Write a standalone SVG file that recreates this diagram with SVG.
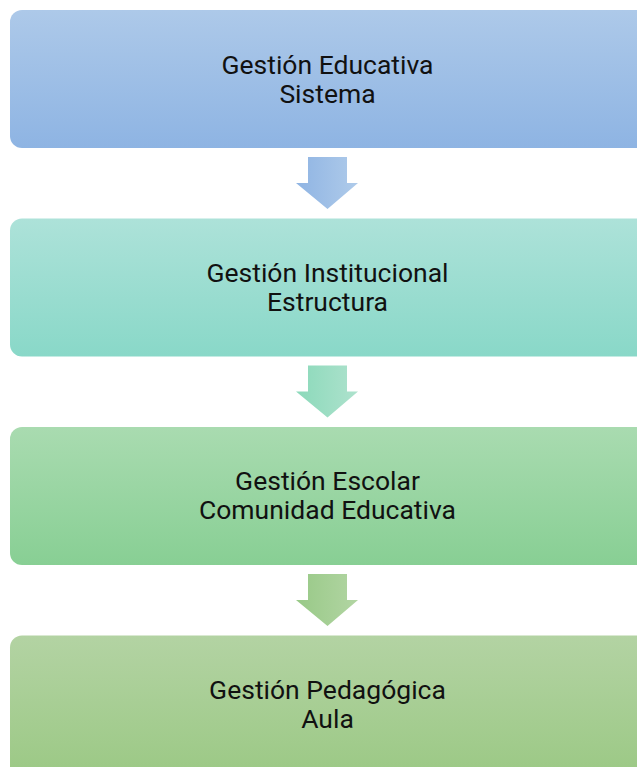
<svg xmlns="http://www.w3.org/2000/svg" width="637" height="767" viewBox="0 0 637 767">
<defs>
<linearGradient id="g1" x1="0" y1="0" x2="0" y2="1"><stop offset="0" stop-color="#adc9e9"/><stop offset="1" stop-color="#8eb4e3"/></linearGradient>
<linearGradient id="g2" x1="0" y1="0" x2="0" y2="1"><stop offset="0" stop-color="#ade2d9"/><stop offset="1" stop-color="#89d8c8"/></linearGradient>
<linearGradient id="g3" x1="0" y1="0" x2="0" y2="1"><stop offset="0" stop-color="#a9dbb0"/><stop offset="1" stop-color="#88cf94"/></linearGradient>
<linearGradient id="g4" x1="0" y1="0" x2="0" y2="1"><stop offset="0" stop-color="#b3d3a3"/><stop offset="1" stop-color="#9ac883"/></linearGradient>
<linearGradient id="a1" x1="0" y1="0" x2="1" y2="0"><stop offset="0" stop-color="#8fb4e3"/><stop offset="1" stop-color="#afcbea"/></linearGradient>
<linearGradient id="a2" x1="0" y1="0" x2="1" y2="0"><stop offset="0" stop-color="#8bd9ba"/><stop offset="1" stop-color="#aee2cd"/></linearGradient>
<linearGradient id="a3" x1="0" y1="0" x2="1" y2="0"><stop offset="0" stop-color="#98c987"/><stop offset="1" stop-color="#b2d5a3"/></linearGradient>
<path id="arr" d="M308,0 H347 V26 H358 L327.5,52 L296,26 H308 Z"/>
</defs>
<style>
text{font-family:Roboto,"Liberation Sans",sans-serif;font-size:26.5px;fill:#111;text-anchor:middle}
</style>
<g id="n1"><rect x="10" y="10" width="640" height="138" rx="12" fill="url(#g1)"/><text x="327.5" y="74">Gestión Educativa</text><text x="327.5" y="102.5">Sistema</text></g>
<g id="n2"><rect x="10" y="218.5" width="640" height="138" rx="12" fill="url(#g2)"/><text x="327.5" y="282">Gestión Institucional</text><text x="327.5" y="311">Estructura</text></g>
<g id="n3"><rect x="10" y="427" width="640" height="138" rx="12" fill="url(#g3)"/><text x="327.5" y="489.5">Gestión Escolar</text><text x="327.5" y="518.5">Comunidad Educativa</text></g>
<g id="n4"><rect x="10" y="635.5" width="640" height="150" rx="12" fill="url(#g4)"/><text x="327.5" y="698.5">Gestión Pedagógica</text><text x="327.5" y="727.5">Aula</text></g>
<g id="connectors">
<use href="#arr" y="157" fill="url(#a1)"/>
<use href="#arr" y="365.5" fill="url(#a2)"/>
<use href="#arr" y="574" fill="url(#a3)"/>
</g>
</svg>
